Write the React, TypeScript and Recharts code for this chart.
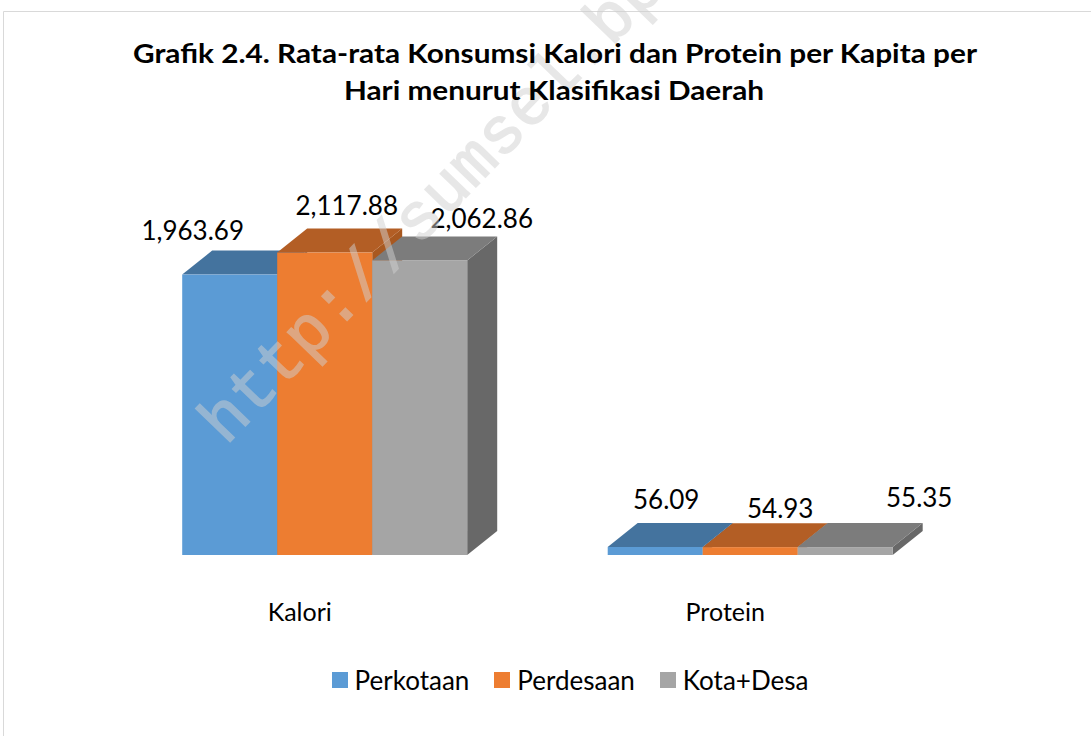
import { BarChart, Bar, XAxis, YAxis, LabelList } from "recharts";

const categories = ["Kalori", "Protein"];
const perkotaan = [1963.69, 56.09];
const perdesaan = [2117.88, 54.93];
const kotaDesa = [2062.86, 55.35];
const seriesNames = ["Perkotaan", "Perdesaan", "Kota+Desa"];

const data = categories.map((name, i) => ({
  name,
  perkotaan: perkotaan[i],
  perdesaan: perdesaan[i],
  kotaDesa: kotaDesa[i],
}));

const FONT = "Lato, 'Open Sans', sans-serif";
// depth of the fake 3d boxes
const DX = 30;
const DY = 24;

const SERIES = [
  { key: "perkotaan", front: "#5b9bd5", top: "#44739e", side: "#3f6c94" },
  { key: "perdesaan", front: "#ed7d31", top: "#b35e25", side: "#a85820" },
  { key: "kotaDesa", front: "#a5a5a5", top: "#7c7c7c", side: "#686868" },
];

// label nudges per series / category, relative to the top centre of the front face
const LABEL_NUDGE = [
  [[-37, -45], [11, -48]],
  [[22, -48], [30, -39]],
  [[62, -42], [74, -50]],
];

const fmt = (v: number) =>
  v.toLocaleString("en-US", { minimumFractionDigits: 2, maximumFractionDigits: 2 });

function Box3D(props: any) {
  const { x, y, width, height, colors } = props;
  const r = x + width;
  const b = y + height;
  return (
    <g>
      <polygon
        points={`${r},${y} ${r + DX},${y - DY} ${r + DX},${b - DY} ${r},${b}`}
        fill={colors.side}
      />
      <polygon
        points={`${x},${y} ${x + DX},${y - DY} ${r + DX},${y - DY} ${r},${y}`}
        fill={colors.top}
      />
      <rect x={x} y={y} width={width} height={height} fill={colors.front} />
    </g>
  );
}

function makeLabel(s: number) {
  return (p: any) => {
    const { x, y, width, value, index } = p;
    const [dx, dy] = LABEL_NUDGE[s][index];
    return (
      <text
        x={x + width / 2 + dx}
        y={y + dy}
        textAnchor="middle"
        dominantBaseline="central"
        fontFamily={FONT}
        fontSize={26}
        fill="#000"
      >
        {fmt(value)}
      </text>
    );
  };
}

function CatTick(p: any) {
  const { x, y, payload } = p;
  return (
    <text x={x - 25} y={y + 48} textAnchor="middle" dominantBaseline="central" fontFamily={FONT} fontSize={25} fill="#000">
      {payload.value}
    </text>
  );
}

export default function App() {
  return (
    <div style={{ position: "absolute", left: 0, top: 0, width: 1091, height: 736, background: "#fff", overflow: "hidden" }}>
      <BarChart
        width={1091}
        height={736}
        data={data}
        margin={{ top: 198, right: 128, bottom: 121, left: 112 }}
        barCategoryGap="16.5%"
        barGap={0}
      >
        <XAxis dataKey="name" axisLine={false} tickLine={false} height={60} tick={<CatTick />} interval={0} />
        <YAxis hide domain={[0, 2500]} />
        {SERIES.map((s, i) => (
          <Bar
            key={s.key}
            dataKey={s.key}
            name={seriesNames[i]}
            fill={s.front}
            isAnimationActive={false}
            shape={(p: any) => <Box3D {...p} colors={s} />}
          >
            <LabelList dataKey={s.key} content={makeLabel(i)} />
          </Bar>
        ))}
      </BarChart>

      <svg width={1091} height={736} style={{ position: "absolute", left: 0, top: 0, pointerEvents: "none" }}>
        <line x1={3.5} y1={11.5} x2={1091} y2={11.5} stroke="#d9d9d9" />
        <line x1={3.5} y1={11.5} x2={3.5} y2={736} stroke="#d9d9d9" />
        <text
          x={226}
          y={446}
          transform="rotate(-46 226 446)"
          fontFamily="'Liberation Mono', monospace"
          fontSize={66}
          fill="#d0d0d0"
          stroke="#d0d0d0"
          strokeWidth={1.5}
          opacity={0.5}
        >
          http://sumsel.bps
        </text>
        <text
          x={555}
          y={63}
          textAnchor="middle"
          fontFamily={FONT}
          fontWeight="bold"
          fontSize={26}
          textLength={844}
          lengthAdjust="spacingAndGlyphs"
          fill="#000"
        >
          Grafik 2.4. Rata-rata Konsumsi Kalori dan Protein per Kapita per
        </text>
        <text
          x={554}
          y={100}
          textAnchor="middle"
          fontFamily={FONT}
          fontWeight="bold"
          fontSize={26}
          textLength={420}
          lengthAdjust="spacingAndGlyphs"
          fill="#000"
        >
          Hari menurut Klasifikasi Daerah
        </text>
      </svg>

      <div
        style={{
          position: "absolute",
          left: 0,
          top: 664,
          width: 1140,
          height: 32,
          display: "flex",
          justifyContent: "center",
          alignItems: "center",
          fontFamily: FONT,
          fontSize: 26,
          color: "#000",
        }}
      >
        {SERIES.map((s, i) => (
          <div key={s.key} style={{ display: "flex", alignItems: "center", marginLeft: i ? 25 : 0 }}>
            <span style={{ width: 16, height: 16, background: s.front, marginRight: 7, display: "inline-block" }} />
            <span>{seriesNames[i]}</span>
          </div>
        ))}
      </div>
    </div>
  );
}
